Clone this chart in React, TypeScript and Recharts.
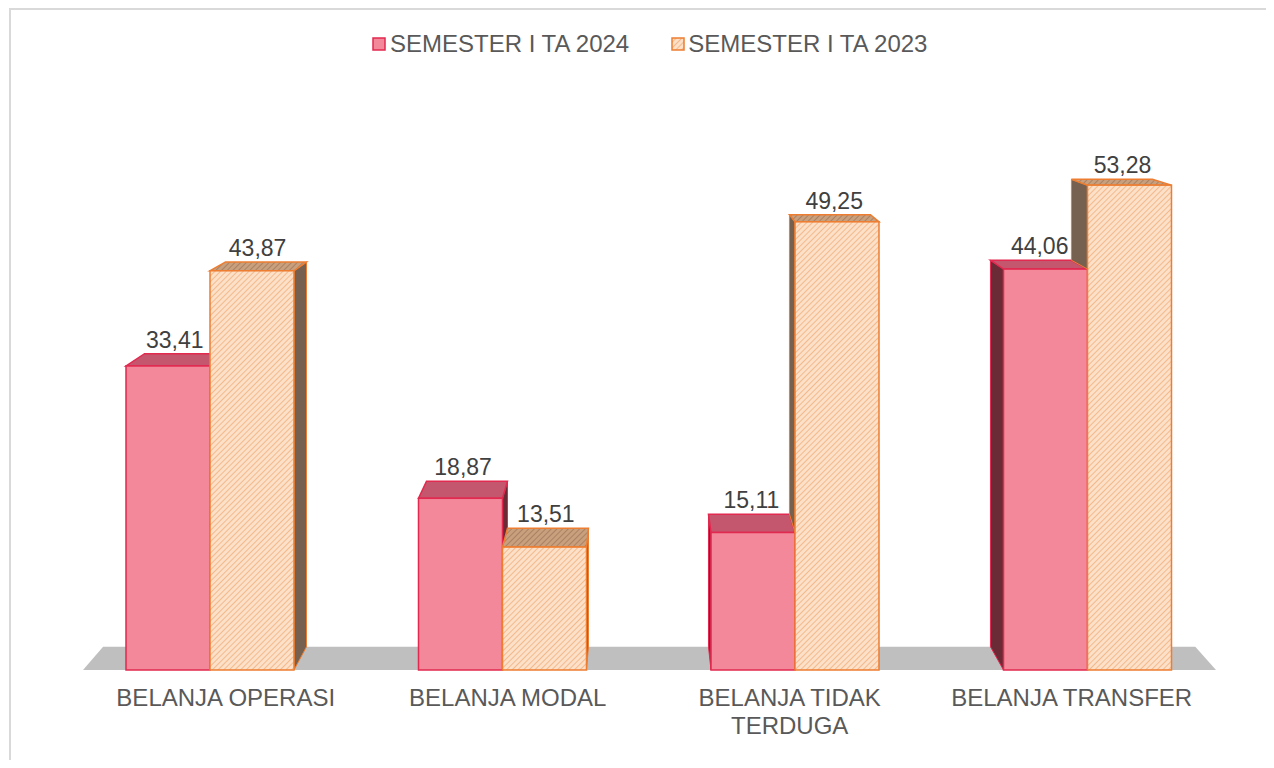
import React from "react";
import {
  Bar,
  BarChart,
  LabelList,
  Legend,
  ReferenceLine,
  XAxis,
  YAxis,
} from "recharts";

const categories = [
  "BELANJA OPERASI",
  "BELANJA MODAL",
  "BELANJA TIDAK TERDUGA",
  "BELANJA TRANSFER",
];
const semester2024 = [33.41, 18.87, 15.11, 44.06];
const semester2023 = [43.87, 13.51, 49.25, 53.28];
const seriesNames = ["SEMESTER I TA 2024", "SEMESTER I TA 2023"];

const data = categories.map((name, i) => ({
  name,
  s2024: semester2024[i],
  s2023: semester2023[i],
}));

const FONT = "'Liberation Sans', Arial, sans-serif";

// perspective: back face = vanishing point + (front - vp) * DEPTH
const VX = 633;
const VY = 16;
const DEPTH = 0.964;
const back = (px: number, py: number) => [VX + (px - VX) * DEPTH, VY + (py - VY) * DEPTH];
const pts = (list: number[][]) => list.map((p) => p.join(",")).join(" ");

const PINK = {
  front: "#F2889A",
  top: "#C4566D",
  side: "#6A2A36",
  stroke: "#E2294F",
};
const ORANGE = {
  front: "url(#hatchFront)",
  top: "url(#hatchTop)",
  side: "#76604F",
  stroke: "#ED7D31",
};

let ctx: CanvasRenderingContext2D | null = null;
function wrapWords(label: string, maxWidth: number) {
  if (!ctx) {
    ctx = document.createElement("canvas").getContext("2d");
    if (ctx) ctx.font = `24px ${FONT}`;
  }
  const lines: string[] = [];
  let cur = "";
  for (const w of label.split(" ")) {
    const next = cur ? cur + " " + w : w;
    const width = ctx ? ctx.measureText(next).width : next.length * 15;
    if (cur && width > maxWidth) {
      lines.push(cur);
      cur = w;
    } else {
      cur = next;
    }
  }
  if (cur) lines.push(cur);
  return lines;
}

function Box(props: any, c: typeof PINK, clipByOther: boolean) {
  const { x, y, width, height, payload } = props;
  if (!height || height <= 0) return <g />;
  const x0 = x;
  const x1 = x + width;
  const y0 = y;
  const y1 = y + height;
  const top = [[x0, y0], [x1, y0], back(x1, y0), back(x0, y0)];
  let side: number[][] | null = null;
  if (x1 <= VX) {
    side = [[x1, y0], [x1, y1], back(x1, y1), back(x1, y0)];
  } else if (x0 >= VX) {
    let yc = y1;
    if (clipByOther) {
      yc = Math.max(y0, y1 - (height * payload.s2024) / payload.s2023);
    }
    side = [[x0, y0], [x0, yc], back(x0, yc), back(x0, y0)];
  }
  return (
    <g>
      {side && <polygon points={pts(side)} fill={c.side} stroke={c.stroke} strokeWidth={1} />}
      <polygon points={pts(top)} fill={c.top} stroke={c.stroke} strokeWidth={1.5} />
      <rect x={x0} y={y0} width={width} height={height} fill={c.front} stroke={c.stroke} strokeWidth={1.5} />
    </g>
  );
}

const ValueLabel = (props: any) => {
  const { x, y, width, value } = props;
  const cx = x + width / 2;
  const [bx, by] = back(cx, y);
  return (
    <text
      x={cx + (bx - cx) * 0.4}
      y={by - 6}
      textAnchor="middle"
      fontFamily={FONT}
      fontSize={23}
      fill="#404040"
    >
      {Number(value).toFixed(2).replace(".", ",")}
    </text>
  );
};

const AxisTick = (props: any) => {
  const { x, y, payload } = props;
  const lines = wrapWords(String(payload.value), 255);
  const tx = back(x, y)[0];
  return (
    <text x={tx} y={y + 28} textAnchor="middle" fontFamily={FONT} fontSize={24} fill="#595959">
      {lines.map((line, i) => (
        <tspan key={i} x={tx} dy={i === 0 ? 0 : 28}>
          {line}
        </tspan>
      ))}
    </text>
  );
};

const Floor = (props: any) => {
  const { x1, x2, y1 } = props;
  const a = [x1 + 19, y1];
  const b = [x2 - 18, y1];
  return <polygon points={pts([a, b, back(b[0], b[1]), back(a[0], a[1])])} fill="#BFBFBF" />;
};

const LegendContent = () => (
  <div style={{ display: "flex", alignItems: "center", fontFamily: FONT, fontSize: 24, color: "#595959", whiteSpace: "nowrap" }}>
    <svg width={14} height={14} style={{ marginRight: 4 }}>
      <rect x={1} y={1} width={12} height={12} fill={PINK.front} stroke={PINK.stroke} strokeWidth={1.5} />
    </svg>
    <span style={{ marginRight: 42 }}>{seriesNames[0]}</span>
    <svg width={14} height={14} style={{ marginRight: 3 }}>
      <rect x={1} y={1} width={12} height={12} fill="url(#hatchFront)" stroke={ORANGE.stroke} strokeWidth={1.5} />
    </svg>
    <span>{seriesNames[1]}</span>
  </div>
);

export default function App() {
  return (
    <div style={{ position: "relative", width: 1258, height: 752 }}>
      <svg width={0} height={0} style={{ position: "absolute" }}>
        <defs>
          <pattern id="hatchFront" patternUnits="userSpaceOnUse" width={4} height={4} patternTransform="rotate(45)">
            <rect width={4} height={4} fill="#FCE0C8" />
            <line x1={0} y1={0} x2={0} y2={4} stroke="#F0A872" strokeWidth={1.4} />
          </pattern>
          <pattern id="hatchTop" patternUnits="userSpaceOnUse" width={4} height={4} patternTransform="rotate(45)">
            <rect width={4} height={4} fill="#C9A07E" />
            <line x1={0} y1={0} x2={0} y2={4} stroke="#9C7456" strokeWidth={1.4} />
          </pattern>
        </defs>
      </svg>
      <div
        style={{
          position: "absolute",
          left: 1,
          top: 0,
          right: 0,
          bottom: 0,
          borderTop: "2px solid #D9D9D9",
          borderLeft: "2px solid #D9D9D9",
          pointerEvents: "none",
        }}
      />
      <BarChart
        width={1258}
        height={752}
        data={data}
        margin={{ top: 116, right: 32, left: 56, bottom: 30 }}
        barGap={0}
        barSize={84}
      >
        <ReferenceLine y={0} shape={Floor} zIndex={-50} />
        <XAxis
          dataKey="name"
          axisLine={false}
          tickLine={false}
          height={60}
          interval={0}
          tick={AxisTick}
        />
        <YAxis hide domain={[0, 60]} />
        <Legend
          layout="vertical"
          align="center"
          verticalAlign="top"
          wrapperStyle={{ top: 22, left: 364, width: "auto", height: 0, overflow: "visible" }}
          content={LegendContent}
        />
        <Bar
          dataKey="s2024"
          name={seriesNames[0]}
          isAnimationActive={false}
          shape={(p: any) => Box(p, PINK, false)}
        >
          <LabelList dataKey="s2024" content={ValueLabel} />
        </Bar>
        <Bar
          dataKey="s2023"
          name={seriesNames[1]}
          isAnimationActive={false}
          shape={(p: any) => Box(p, ORANGE, true)}
        >
          <LabelList dataKey="s2023" content={ValueLabel} />
        </Bar>
      </BarChart>
    </div>
  );
}
